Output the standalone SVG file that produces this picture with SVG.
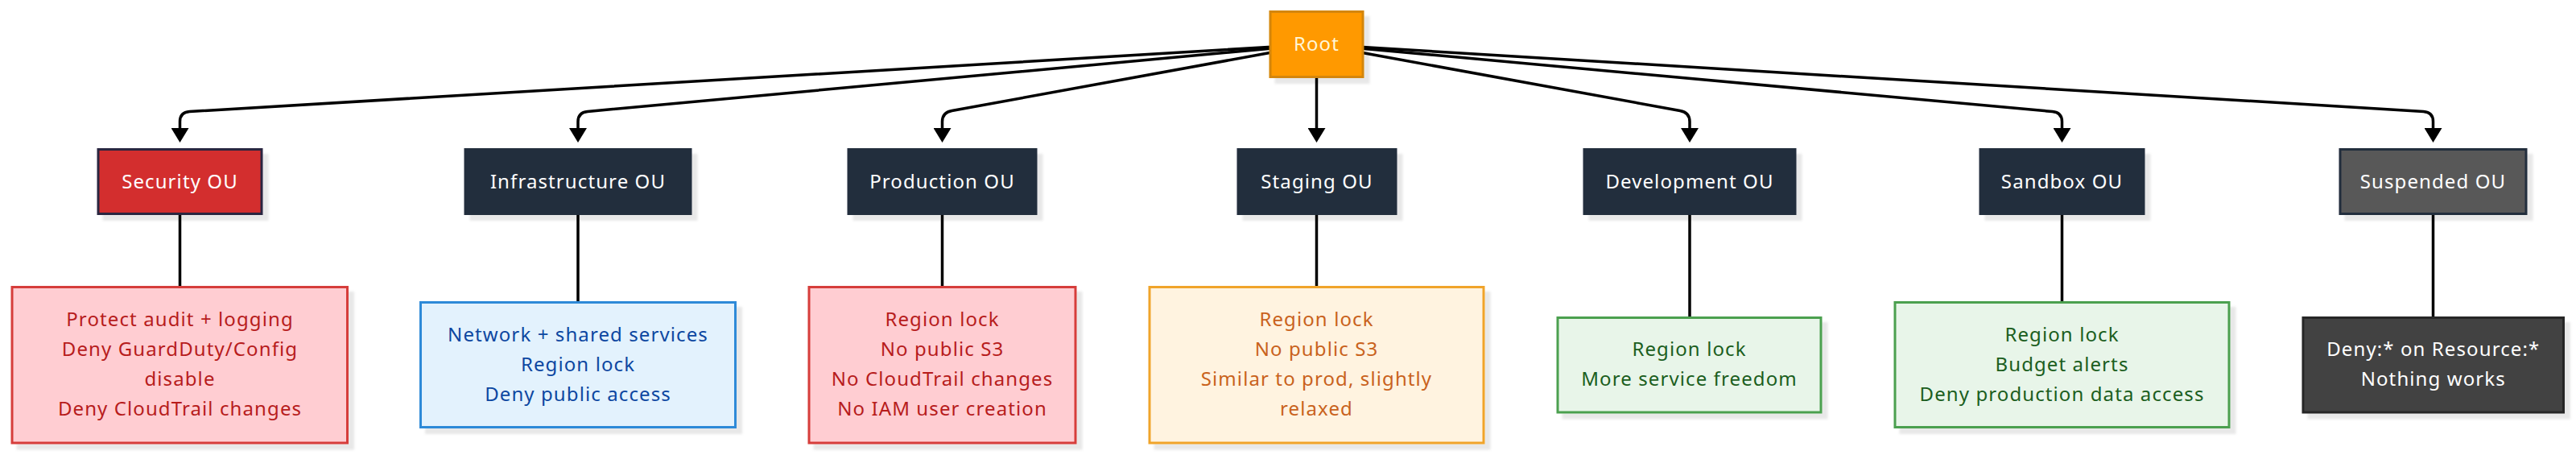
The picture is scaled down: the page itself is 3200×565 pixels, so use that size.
<svg xmlns="http://www.w3.org/2000/svg" width="3200" height="565" viewBox="0 0 3200 565">
<defs>
<filter id="sh" x="-10%" y="-10%" width="130%" height="140%">
<feDropShadow dx="7" dy="7" stdDeviation="1.5" flood-color="#000" flood-opacity="0.09"/>
</filter>
<marker id="arr" markerUnits="userSpaceOnUse" viewBox="0 0 18 22" markerWidth="18" markerHeight="22" refX="11" refY="11" orient="auto">
<path d="M0,0 L18,11 L0,22 z" fill="#000"/>
</marker>
<style>
text{font-family:"Noto Sans","Open Sans","DejaVu Sans",sans-serif;font-size:24px;letter-spacing:1.1px;text-anchor:middle}
.edge{fill:none;stroke:#000;stroke-width:3.5}
.link{fill:none;stroke:#000;stroke-width:3.5}
.ou rect{fill:#232f3e;stroke:#232f3e;stroke-width:3;filter:url(#sh)}
.ou text{fill:#ffffff}
.box rect{stroke-width:3;filter:url(#sh)}
.red rect{fill:#ffcdd2;stroke:#d63d3a}
.red text{fill:#b71c1c}
.blue rect{fill:#e3f2fd;stroke:#2f8ad8}
.blue text{fill:#0d47a1}
.orange rect{fill:#fff3e0;stroke:#f0a42a}
.orange text{fill:#c9621c}
.green rect{fill:#e8f5e9;stroke:#4ca04f}
.green text{fill:#1b5e20}
.dark rect{fill:#424242;stroke:#262626}
.dark text{fill:#ffffff}
</style>
</defs>
<rect width="3200" height="565" fill="#ffffff"/>

<g id="connectors">
<path class="edge" d="M1635,55 L235.5,138.5 Q223.5,139.2 223.5,151 L223.5,170" marker-end="url(#arr)"/>
<path class="edge" d="M1635,55 L730,138.5 Q718,139.6 718,151 L718,170" marker-end="url(#arr)"/>
<path class="edge" d="M1635,55 L1182.5,137.5 Q1170.5,139.7 1170.5,151 L1170.5,170" marker-end="url(#arr)"/>
<path class="edge" d="M1635.5,96 L1635.5,170" marker-end="url(#arr)"/>
<path class="edge" d="M1635,55 L2087,137.5 Q2099,139.7 2099,151 L2099,170" marker-end="url(#arr)"/>
<path class="edge" d="M1635,55 L2549.5,138.5 Q2561.5,139.6 2561.5,151 L2561.5,170" marker-end="url(#arr)"/>
<path class="edge" d="M1635,55 L3010.5,138.5 Q3022.5,139.2 3022.5,151 L3022.5,170" marker-end="url(#arr)"/>
<path class="link" d="M223.5,266 L223.5,356"/>
<path class="link" d="M718,266 L718,375"/>
<path class="link" d="M1170.5,266 L1170.5,356"/>
<path class="link" d="M1635.5,266 L1635.5,356"/>
<path class="link" d="M2099,266 L2099,394"/>
<path class="link" d="M2561.5,266 L2561.5,375"/>
<path class="link" d="M3022.5,266 L3022.5,394"/>
</g>

<g id="root">
<rect x="1578" y="14.5" width="115" height="81" fill="#ff9900" stroke="#d4860c" stroke-width="3" filter="url(#sh)"/>
<text x="1635.5" y="63" fill="#fff6d8">Root</text>
</g>

<g id="security-ou" class="ou">
<rect x="122" y="185.5" width="203" height="80" style="fill:#d32f2f;stroke:#2a2540"/>
<text x="223.5" y="234">Security OU</text>
</g>
<g id="infrastructure-ou" class="ou">
<rect x="578" y="185.5" width="280" height="80"/>
<text x="718" y="234">Infrastructure OU</text>
</g>
<g id="production-ou" class="ou">
<rect x="1054" y="185.5" width="233" height="80"/>
<text x="1170.5" y="234">Production OU</text>
</g>
<g id="staging-ou" class="ou">
<rect x="1538" y="185.5" width="196" height="80"/>
<text x="1636" y="234">Staging OU</text>
</g>
<g id="development-ou" class="ou">
<rect x="1968" y="185.5" width="262" height="80"/>
<text x="2099" y="234">Development OU</text>
</g>
<g id="sandbox-ou" class="ou">
<rect x="2460" y="185.5" width="203" height="80"/>
<text x="2561.5" y="234">Sandbox OU</text>
</g>
<g id="suspended-ou" class="ou">
<rect x="2907" y="185.5" width="231" height="80" style="fill:#585858"/>
<text x="3022.5" y="234">Suspended OU</text>
</g>

<g id="security-policies" class="box red">
<rect x="15" y="356.5" width="416.5" height="193.5"/>
<text x="223.5" y="405.2">Protect audit + logging</text>
<text x="223.5" y="442.2">Deny GuardDuty/Config</text>
<text x="223.5" y="479.2">disable</text>
<text x="223.5" y="516.2">Deny CloudTrail changes</text>
</g>
<g id="infrastructure-policies" class="box blue">
<rect x="522.5" y="375.5" width="391" height="155"/>
<text x="718" y="423.7">Network + shared services</text>
<text x="718" y="460.7">Region lock</text>
<text x="718" y="497.7">Deny public access</text>
</g>
<g id="production-policies" class="box red">
<rect x="1005" y="356.5" width="331" height="193.5"/>
<text x="1170.5" y="405.2">Region lock</text>
<text x="1170.5" y="442.2">No public S3</text>
<text x="1170.5" y="479.2">No CloudTrail changes</text>
<text x="1170.5" y="516.2">No IAM user creation</text>
</g>
<g id="staging-policies" class="box orange">
<rect x="1428" y="356.5" width="415" height="193.5"/>
<text x="1635.5" y="405.2">Region lock</text>
<text x="1635.5" y="442.2">No public S3</text>
<text x="1635.5" y="479.2">Similar to prod, slightly</text>
<text x="1635.5" y="516.2">relaxed</text>
</g>
<g id="development-policies" class="box green">
<rect x="1935" y="394.5" width="327" height="117.5"/>
<text x="2098.5" y="442.2">Region lock</text>
<text x="2098.5" y="479.2">More service freedom</text>
</g>
<g id="sandbox-policies" class="box green">
<rect x="2354" y="375.5" width="415" height="155"/>
<text x="2561.5" y="423.7">Region lock</text>
<text x="2561.5" y="460.7">Budget alerts</text>
<text x="2561.5" y="497.7">Deny production data access</text>
</g>
<g id="suspended-policies" class="box dark">
<rect x="2861" y="394.5" width="323.5" height="117.5"/>
<text x="3022.75" y="442.2">Deny:* on Resource:*</text>
<text x="3022.75" y="479.2">Nothing works</text>
</g>
</svg>
